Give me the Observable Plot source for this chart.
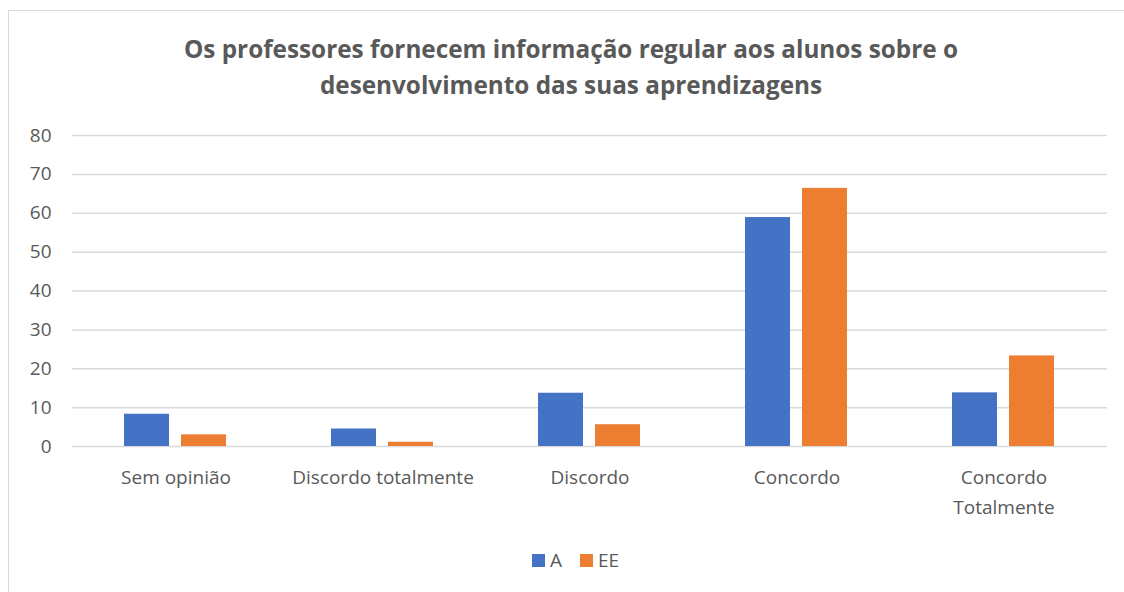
<!DOCTYPE html>
<html>
<head>
<meta charset="utf-8">
<script src="https://cdn.jsdelivr.net/npm/d3@7"></script>
<script src="https://cdn.jsdelivr.net/npm/@observablehq/plot@0.6"></script>
<style>
  html, body { margin: 0; padding: 0; background: #fff; overflow: hidden; }
  #wrap { position: relative; width: 1124px; height: 592px; font-family: "Open Sans", sans-serif; color: #595959; }
  #frame { position: absolute; left: 8px; top: 10px; width: 1126px; height: 600px; border: 1.5px solid #d9d9d9; box-sizing: border-box; }
  #title { position: absolute; left: 8px; width: 1126px; top: 31px; text-align: center; font-weight: bold; font-size: 24.3px; line-height: 36px; color: #595959; }
  #chart { position: absolute; left: 0; top: 0; }
  #legend { position: absolute; top: 547px; left: 532px; font-size: 19px; display: flex; align-items: center; }
  .sw { display: inline-block; width: 13px; height: 13px; margin-right: 5px; }
  .item { display: flex; align-items: center; margin-right: 18px; }
</style>
</head>
<body>
<div id="wrap">
  <div id="frame"></div>
  <div id="title">Os professores fornecem informação regular aos alunos sobre o<br>desenvolvimento das suas aprendizagens</div>
  <div id="chart"></div>
  <div id="legend"></div>
</div>
<script>
const categories = ["Sem opinião", "Discordo totalmente", "Discordo", "Concordo", "Concordo Totalmente"];
const series = ["A", "EE"];
const valuesA = [8.3, 4.5, 13.7, 58.9, 13.8];
const valuesEE = [3.0, 1.1, 5.6, 66.4, 23.3];
const colors = ["#4472C4", "#ED7D31"];
const yTicks = [0, 10, 20, 30, 40, 50, 60, 70, 80];
const catLabels = {"Concordo Totalmente": "Concordo\nTotalmente"};

const data = [];
categories.forEach((c, i) => {
  data.push({category: c, series: "A", value: valuesA[i]});
  data.push({category: c, series: "EE", value: valuesEE[i]});
});

const chart = Plot.plot({
  width: 1124,
  height: 592,
  marginTop: 135,
  marginBottom: 146,
  marginLeft: 72,
  marginRight: 17,
  style: {fontFamily: "Open Sans, sans-serif", fontSize: "19px", color: "#595959", background: "transparent", overflow: "visible"},
  fx: {domain: categories, padding: 0, label: null},
  x: {domain: series, paddingInner: 0.207, paddingOuter: 0.888, axis: null},
  y: {domain: [0, 80], ticks: yTicks, label: null},
  color: {domain: series, range: colors},
  marks: [
    Plot.ruleY(yTicks, {stroke: "#d9d9d9", strokeWidth: 1.5, strokeOpacity: 1}),
    Plot.barY(data, {fx: "category", x: "series", y: "value", fill: "series"}),
    Plot.axisY(yTicks, {anchor: "left", tickSize: 0, tickPadding: 21, fontSize: 19, fill: "#595959", label: null}),
    Plot.axisFx({anchor: "bottom", tickSize: 0, tickPadding: 17, fontSize: 19, lineHeight: 1.55, fill: "#595959", label: null, tickFormat: d => catLabels[d] || d})
  ]
});
document.getElementById("chart").appendChild(chart);

const legend = document.getElementById("legend");
series.forEach((s, i) => {
  const it = document.createElement("div");
  it.className = "item";
  const sw = document.createElement("span");
  sw.className = "sw";
  sw.style.background = colors[i];
  it.appendChild(sw);
  it.appendChild(document.createTextNode(s));
  legend.appendChild(it);
});
</script>
</body>
</html>
